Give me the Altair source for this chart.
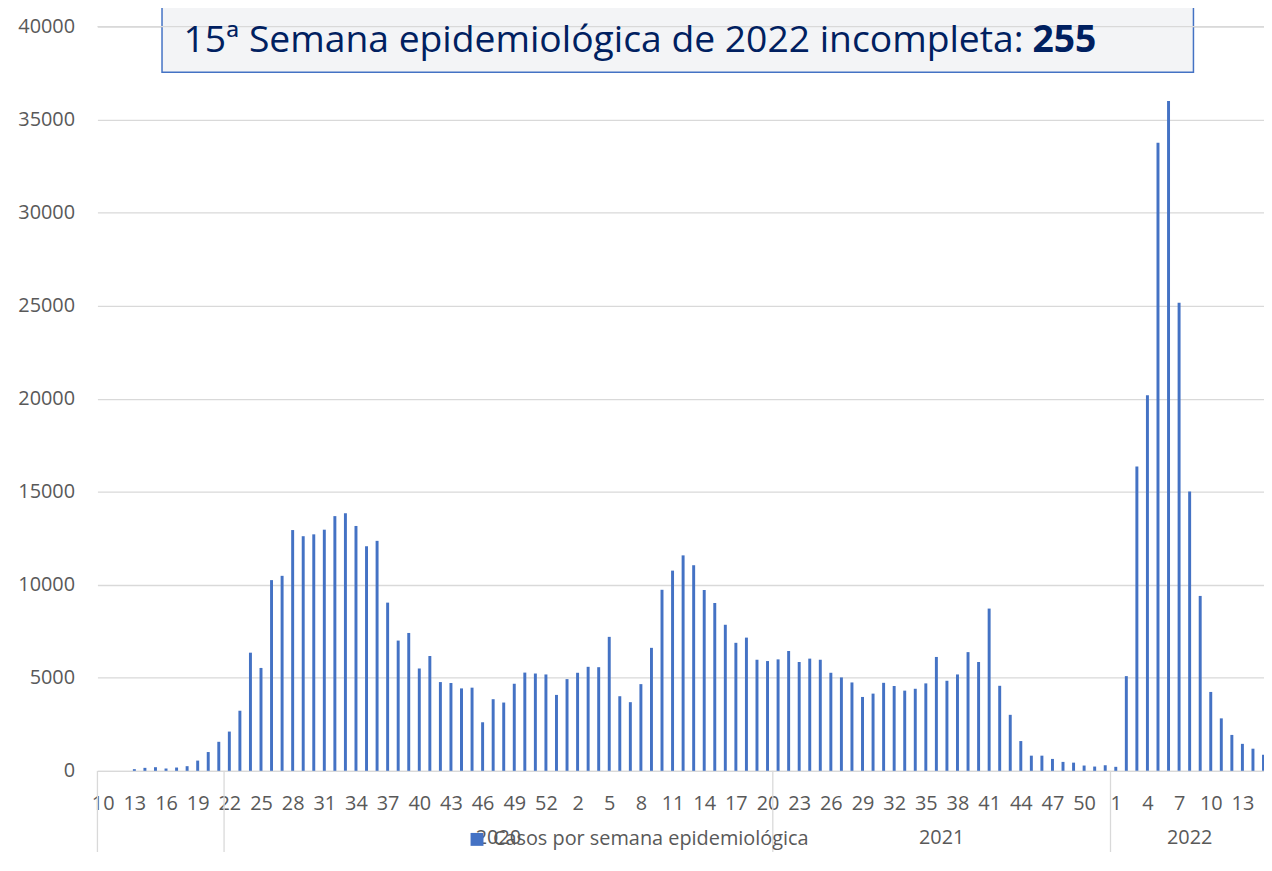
import altair as alt
import pandas as pd

# ---------------- data ----------------
weeks_2020 = list(range(10, 54))
cases_2020 = [0, 0, 0, 90, 160, 195, 125, 177, 250, 550,
              1010, 1560, 2110, 3230, 6350, 5530, 10250, 10480, 12940, 12610,
              12710, 12960, 13690, 13850, 13160, 12070, 12360, 9040, 7000, 7410,
              5500, 6170, 4770, 4720, 4430, 4470, 2610, 3850, 3670, 4680,
              5280, 5230, 5180, 4080]
weeks_2021 = list(range(1, 53))
cases_2021 = [4930, 5270, 5590, 5570, 7200, 4010, 3690, 4660, 6610, 9730,
              10760, 11580, 11050, 9720, 9020, 7850, 6880, 7160, 5970, 5900,
              5990, 6440, 5850, 6030, 5970, 5270, 5020, 4750, 3970, 4150,
              4730, 4560, 4310, 4410, 4700, 6120, 4840, 5180, 6380, 5850,
              8720, 4570, 3010, 1600, 815, 815, 640, 480, 440, 285,
              230, 300]
weeks_2022 = list(range(1, 16))
cases_2022 = [215, 5090, 16350, 20190, 33760, 36000, 25160, 15010, 9400, 4240,
              2820, 1930, 1450, 1190, 870]

# second level of the category axis (as in the source spreadsheet)
group_labels = ["", "2020", "2021", "2022"]
group_sizes = [12, 52, 32, 15]

series_name = "Casos por semana epidemiológica"
note_text = "15ª Semana epidemiológica de 2022 incompleta:"
note_value = "255"

y_ticks = [0, 5000, 10000, 15000, 20000, 25000, 30000, 35000, 40000]

# ---------------- tables ----------------
weeks = weeks_2020 + weeks_2021 + weeks_2022
cases = cases_2020 + cases_2021 + cases_2022
df = pd.DataFrame({"idx": list(range(len(weeks))), "week": weeks, "cases": cases,
                   "serie": series_name})

bounds = [0]
for s in group_sizes:
    bounds.append(bounds[-1] + s)
groups = pd.DataFrame({
    "label": group_labels,
    "start": bounds[:-1],
    "end": bounds[1:],
})
groups["mid"] = (groups["start"] + groups["end"]) / 2
sep = pd.DataFrame({"b": bounds})

# ---------------- layout ----------------
W, H = 1174, 749
STEP = 10.62
X_MAX = W / STEP
FONT = "Open Sans"
GRAY = "#595959"
GRID = "#d9d9d9"
BLUE = "#4472c4"
NAVY = "#002060"

label_expr = "[" + ",".join("'%d'" % w for w in weeks) + "][floor(datum.value)]"
tick_vals = [i + 0.5 for i in range(0, len(weeks), 3)]

xscale = alt.Scale(domain=[0, X_MAX], nice=False, zero=False)
yscale = alt.Scale(domain=[0, 40000], nice=False)


def x_axis():
    return alt.Axis(values=tick_vals, labelExpr=label_expr, title=None,
                    grid=False, ticks=False, domain=True, domainColor=GRID,
                    domainWidth=1.3, labelFont=FONT, labelFontSize=20,
                    labelColor=GRAY, labelPadding=23, labelFlush=False,
                    labelOverlap=False)


bars = alt.Chart(df).transform_calculate(
    x0="datum.idx + 0.36", x1="datum.idx + 0.64"
).mark_bar(cornerRadius=0).encode(
    x=alt.X("x0:Q", scale=xscale, axis=x_axis()),
    x2="x1:Q",
    y=alt.Y("cases:Q", scale=yscale,
            axis=alt.Axis(values=y_ticks, format="d", title=None, grid=True,
                          gridColor=GRID, gridWidth=1.3, ticks=False, domain=False,
                          labelFont=FONT, labelFontSize=20, labelColor=GRAY,
                          labelPadding=23, labelOverlap=False)),
    y2=alt.datum(0),
    color=alt.Color("serie:N", scale=alt.Scale(range=[BLUE]),
                    legend=alt.Legend(title=None, orient="none", legendX=372,
                                      legendY=808, symbolType="square",
                                      symbolSize=169, symbolStrokeWidth=0,
                                      labelFont=FONT, labelFontSize=20,
                                      labelColor=GRAY, labelOffset=6, padding=0,
                                      labelLimit=0)),
)

seps = alt.Chart(sep).mark_rule(color=GRID, strokeWidth=1.3).encode(
    x=alt.X("b:Q", scale=xscale, axis=x_axis()),
    y=alt.value(H), y2=alt.value(H + 100),
)

year_text = alt.Chart(groups).mark_text(
    font=FONT, fontSize=20, color=GRAY, baseline="alphabetic", align="center"
).encode(
    x=alt.X("mid:Q", scale=xscale, axis=x_axis()),
    y=alt.value(H + 74),
    text="label:N",
)

box = alt.Chart(pd.DataFrame({"k": [0]})).mark_rect(
    fill="#f3f4f6", stroke=BLUE, strokeWidth=1.5
).encode(
    x=alt.value(65), x2=alt.value(1103), y=alt.value(-40), y2=alt.value(46)
)

top_grid = alt.Chart(pd.DataFrame({"k": [0]})).mark_rule(
    color=GRID, strokeWidth=1.3
).encode(
    y=alt.value(0), x=alt.value(0), x2=alt.value(W),
)

note = alt.Chart(pd.DataFrame({"t": [note_text]})).mark_text(
    font=FONT, fontSize=37.5, color=NAVY, align="right", baseline="alphabetic"
).encode(x=alt.value(932), y=alt.value(26), text="t:N")

note_v = alt.Chart(pd.DataFrame({"t": [note_value]})).mark_text(
    font=FONT, fontSize=37.5, fontWeight="bold", color=NAVY, align="left",
    baseline="alphabetic"
).encode(x=alt.value(941), y=alt.value(26), text="t:N")

chart = alt.layer(bars, seps, year_text, box, top_grid, note, note_v).properties(
    width=W, height=H,
    autosize=alt.AutoSizeParams(type="none"),
    padding={"left": 90, "top": 16, "right": 0, "bottom": 79},
).configure_view(stroke=None)

chart.save("out.html", embed_options={"renderer": "svg", "actions": False})
